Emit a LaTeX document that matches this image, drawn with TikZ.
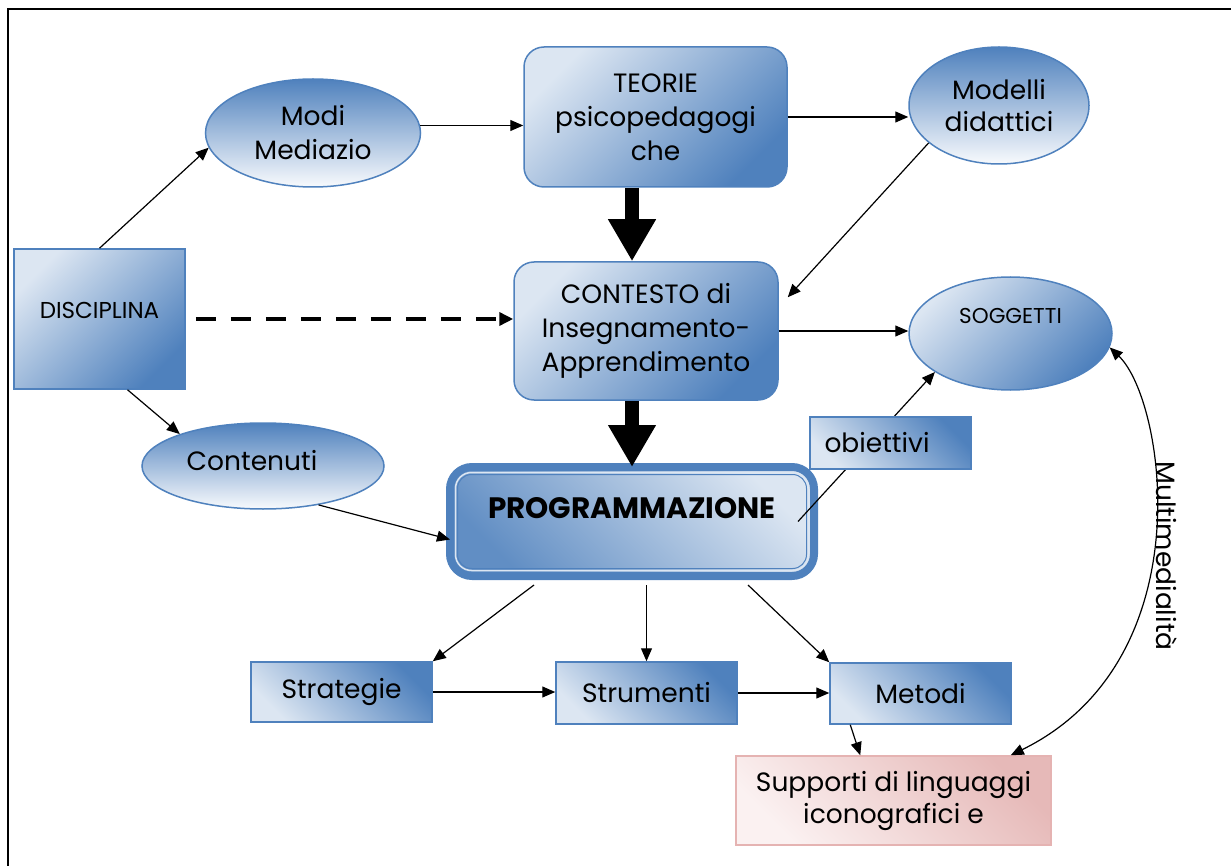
\documentclass[tikz,border=0pt]{standalone}
\usepackage{fontspec}
\setmainfont{Poppins}
\usetikzlibrary{arrows.meta,shapes.geometric}
\definecolor{dblue}{HTML}{4F81BD}
\definecolor{lblue}{HTML}{DCE6F2}
\definecolor{wblue}{HTML}{F8FAFD}
\definecolor{pinkl}{HTML}{FBF1F1}
\definecolor{pinkd}{HTML}{E6B9B8}
\definecolor{pinkb}{HTML}{E5B3B2}
\tikzset{
  lab/.style={font=\fontsize{26.5}{34}\selectfont, align=center, inner sep=0pt},
  ovale/.style={ellipse, lab, draw=dblue, line width=1.5pt, top color=dblue, bottom color=wblue},
  ovalediag/.style={ellipse, lab, draw=dblue, line width=1.5pt, top color=lblue, bottom color=dblue, shading angle=45},
  boxtl/.style={rectangle, lab, draw=dblue, line width=1.5pt, top color=lblue, bottom color=dblue, shading angle=45},
  boxtr/.style={rectangle, lab, draw=dblue, line width=1.5pt, top color=dblue, bottom color=lblue, shading angle=-45},
  arr/.style={-{Triangle[length=13pt,width=11pt]}, line width=1.2pt},
  fatarr/.style={-{Triangle[length=42pt,width=45pt]}, line width=14pt},
  dasharr/.style={-{Triangle[length=14pt,width=13pt]}, line width=4.5pt, dash pattern=on 20pt off 15pt},
}
\begin{document}
\begin{tikzpicture}[x=1pt,y=-1pt]
  \def\boxw{181}
  \useasboundingbox (0,0) rectangle (1231,866);
  \draw[line width=1.3pt] (8,866) -- (8,9) -- (1231,9); % 边框
  % 上排
  \node[ovale, minimum width=215pt, minimum height=108pt] (modi) at (313,133) {Modi\\Mediazio};
  \node[boxtl, rounded corners=20pt, minimum width=263pt, minimum height=140pt] (teo) at (655.5,117) {TEORIE\\psicopedagogi\\che};
  \node[ovale, font=\fontsize{26.5}{32}\selectfont, minimum width=180pt, minimum height=117pt] (mod) at (999,105.5) {Modelli\\didattici};
  % 中排
  \node[boxtl, font=\fontsize{23}{26}\selectfont, text depth=18pt, minimum width=171pt, minimum height=140pt] (dis) at (99.5,319) {DISCIPLINA};
  \node[boxtl, rounded corners=20pt, minimum width=264pt, minimum height=138pt] (con) at (646,331) {CONTESTO di\\Insegnamento-\\Apprendimento};
  \node[ovalediag, font=\fontsize{21.5}{24}\selectfont, text depth=35pt, minimum width=203pt, minimum height=113pt] (sog) at (1010.5,333.5) {SOGGETTI};
  \node[ovale, text depth=12pt, minimum width=242pt, minimum height=86pt] (cnt) at (263,466) {Contenuti\hspace*{22pt}};
  \node[rectangle, draw=dblue, line width=8pt, outer sep=0pt, rounded corners=22pt, top color=lblue, bottom color=dblue!90, shading angle=-45, font=\fontsize{29.5}{32}\selectfont\bfseries, inner sep=0pt, text depth=28pt, minimum width=364pt, minimum height=109pt] (prog) at (632,521.5) {PROGRAMMAZIONE};
  \draw[line width=1.5pt, draw=lblue, rounded corners=16pt] ([xshift=5.5pt,yshift=5.5pt]prog.south west) rectangle ([xshift=-5.5pt,yshift=-5.5pt]prog.north east);
  \draw[line width=1pt, draw=dblue, rounded corners=14pt] ([xshift=7.5pt,yshift=7.5pt]prog.south west) rectangle ([xshift=-7.5pt,yshift=-7.5pt]prog.north east);
  % 下排
  \node[boxtr, minimum width=\boxw pt, minimum height=60pt] (str) at (341.5,692) {Strategie};
  \node[boxtr, minimum width=\boxw pt, minimum height=62pt] (stm) at (646.5,693) {Strumenti};
  \node[boxtr, minimum width=\boxw pt, minimum height=61pt] (met) at (920.5,693.5) {Metodi};
  \node[rectangle, lab, draw=pinkb, line width=1.5pt, top color=pinkd, bottom color=pinkl, shading angle=-45, font=\fontsize{26.5}{32}\selectfont, minimum width=315pt, minimum height=89pt] (sup) at (893.5,800.5) {Supporti di linguaggi\\iconografici e};
  % 箭头
  \draw[arr] (dis.north) -- (modi.188);
  \draw[arr] (modi.4) -- (modi.4 -| teo.west);
  \draw[arr] (teo.east) -- (teo.east -| mod.west);
  \draw[arr] (mod.208) -- ([xshift=9pt,yshift=-36pt]con.north east);
  \draw[dasharr] ([xshift=10pt]dis.east) -- (dis.east -| con.west); % 虚线箭头
  \draw[arr] (con.east) -- (con.east -| sog.west);
  \draw[arr] ([xshift=28pt]dis.south) -- (cnt.159);
  \draw[arr] (cnt.-35) -- ([yshift=-18pt]prog.west);
  \foreach \a/\b in {teo/con, con/prog} {
      \draw[fatarr] (prog.north |- \a.south) -- (prog.north |- \b.north); % 粗箭头
  }
  \draw[arr] ([xshift=-16pt]prog.east) -- (sog.207);
  \node[boxtr, minimum width=161pt, minimum height=52pt] (obi) at (890.5,443) {obiettivi\hspace*{27pt}};
  \draw[arr] ([xshift=-98pt,yshift=-9pt]prog.south) -- (str.north east);
  \draw[arr, shorten <=9pt] (stm.north |- prog.south) -- (stm.north);
  \draw[arr] ([xshift=116pt,yshift=-9pt]prog.south) -- (met.north west);
  \foreach \a/\b in {str/stm, stm/met} {
      \draw[arr] (\a.east) -- (\a.east -| \b.west);
  }
  \draw[arr] ([xshift=21pt]met.south west) -- ([xshift=125pt]sup.north west);
  \draw[{Triangle[length=13pt,width=11pt]}-{Triangle[length=13pt,width=11pt]}, line width=1.2pt] (sog.-8) .. controls (1165,400) and (1205,660) .. ([xshift=-41pt]sup.north east); % 双向弧线
  \node[lab, rotate=-90] (mml) at (1167,556) {Multimedialità};
\end{tikzpicture}
\end{document}
